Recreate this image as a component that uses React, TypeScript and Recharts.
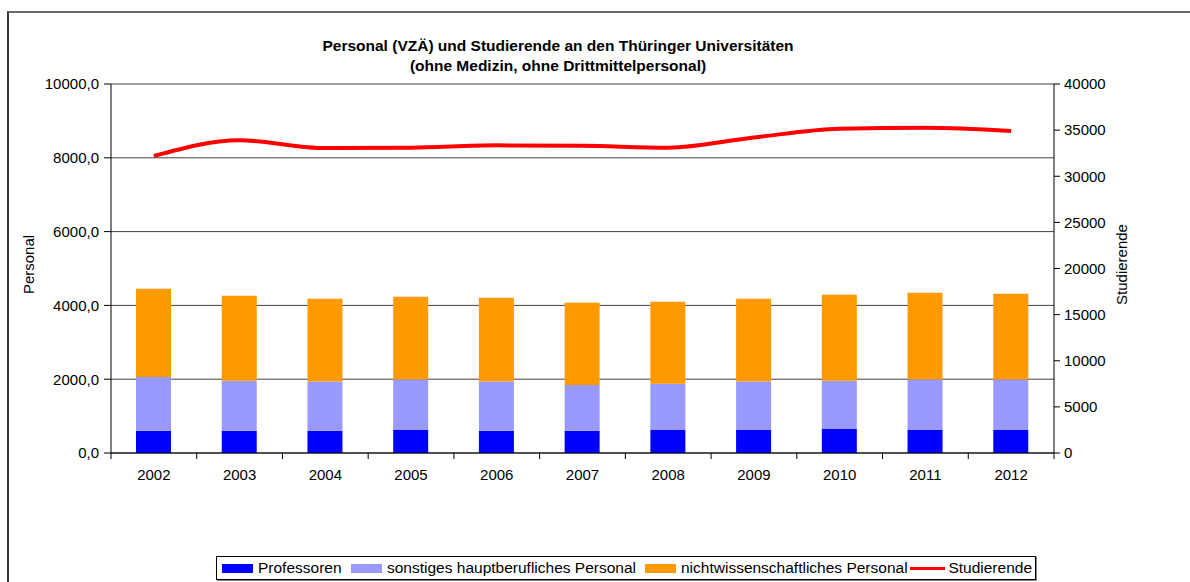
import { ComposedChart, Bar, Line, XAxis, YAxis, CartesianGrid } from 'recharts';

const years = ['2002', '2003', '2004', '2005', '2006', '2007', '2008', '2009', '2010', '2011', '2012'];
const professoren = [600, 600, 600, 625, 600, 600, 625, 625, 650, 625, 625];
const sonstiges = [1460, 1355, 1335, 1365, 1335, 1245, 1255, 1310, 1305, 1365, 1365];
const nichtwiss = [2390, 2305, 2245, 2245, 2270, 2225, 2220, 2245, 2335, 2350, 2325];
const studierende = [32200, 33900, 33050, 33100, 33350, 33300, 33100, 34200, 35150, 35250, 34900];

const leftTicks = [0, 2000, 4000, 6000, 8000, 10000];
const rightTicks = [0, 5000, 10000, 15000, 20000, 25000, 30000, 35000, 40000];

const data = years.map((year, i) => ({
  year,
  professoren: professoren[i],
  sonstiges: sonstiges[i],
  nichtwiss: nichtwiss[i],
  studierende: studierende[i],
}));

const FONT = '"Liberation Sans", Arial, sans-serif';
const tickStyle = { fill: '#000', fontSize: 15, fontFamily: FONT };

const legendItems = [
  { label: 'Professoren', color: '#0000FF', line: false, width: 129 },
  { label: 'sonstiges hauptberufliches Personal', color: '#9999FF', line: false, width: 294 },
  { label: 'nichtwissenschaftliches Personal', color: '#FF9900', line: false, width: 265 },
  { label: 'Studierende', color: '#FF0000', line: true, width: 122 },
];

const axisTitle = (text: string, dx: number) => (props: any) => {
  const vb = props.viewBox || {};
  const x = vb.x + dx;
  const y = vb.y + vb.height / 2 - 4;
  return (
    <text
      x={x}
      y={y}
      transform={`rotate(-90, ${x}, ${y})`}
      textAnchor="middle"
      dominantBaseline="central"
      fontSize={15}
      fontFamily={FONT}
      fill="#000"
    >
      {text}
    </text>
  );
};

// year label plus the small tick marks that sit between the categories
const YearTick = (props: any) => {
  const { x, y, payload, index, visibleTicksCount } = props;
  const half = payload && payload.offset ? payload.offset : 943 / 11 / 2;
  const axisY = y - 16;
  const isLast = index === (visibleTicksCount || years.length) - 1;
  return (
    <g>
      <line x1={x - half} x2={x - half} y1={axisY} y2={axisY + 6} stroke="#000" />
      {isLast && <line x1={x + half} x2={x + half} y1={axisY} y2={axisY + 6} stroke="#000" />}
      <text x={x} y={y} dy="0.71em" textAnchor="middle" fontSize={15} fontFamily={FONT} fill="#000">
        {payload.value}
      </text>
    </g>
  );
};

export default function App() {
  return (
    <div
      style={{
        position: 'fixed',
        left: 0,
        top: 0,
        width: 1190,
        height: 582,
        background: '#fff',
        overflow: 'hidden',
        fontFamily: FONT,
      }}
    >
      {/* chart frame, runs off the page to the right and bottom */}
      <div
        style={{
          position: 'absolute',
          left: 7,
          top: 11,
          width: 1300,
          height: 700,
          borderLeft: '2px solid #3a3a3a',
          borderTop: '2px solid #6a6a6a',
        }}
      />

      <div
        style={{
          position: 'absolute',
          left: 0,
          width: 1116,
          top: 36,
          textAlign: 'center',
          fontWeight: 'bold',
          fontSize: 15.5,
          lineHeight: '20px',
          color: '#000',
        }}
      >
        <div>Personal (VZÄ) und Studierende an den Thüringer Universitäten</div>
        <div>(ohne Medizin, ohne Drittmittelpersonal)</div>
      </div>

      <div style={{ position: 'absolute', left: 0, top: 0 }}>
        <ComposedChart
          width={1190}
          height={582}
          data={data}
          margin={{ top: 84, right: 56, bottom: 99, left: 40 }}
          barCategoryGap={0}
        >
          <CartesianGrid yAxisId="left" vertical={false} stroke="#000" strokeOpacity={0.75} />
          <XAxis
            dataKey="year"
            height={30}
            axisLine={{ stroke: '#000' }}
            tickLine={false}
            tickSize={6}
            tickMargin={10}
            tick={<YearTick />}
            interval={0}
          />
          <YAxis
            yAxisId="left"
            width={71}
            domain={[0, 10000]}
            ticks={leftTicks}
            tickFormatter={(v: number) => v.toFixed(1).replace('.', ',')}
            axisLine={{ stroke: '#000' }}
            tickLine={{ stroke: '#000' }}
            tickSize={7}
            tickMargin={5}
            tick={tickStyle}
            label={{ content: axisTitle('Personal', -12) }}
          />
          <YAxis
            yAxisId="right"
            orientation="right"
            width={80}
            domain={[0, 40000]}
            ticks={rightTicks}
            axisLine={{ stroke: '#000' }}
            tickLine={{ stroke: '#000' }}
            tickSize={6}
            tickMargin={4}
            tick={tickStyle}
            label={{ content: axisTitle('Studierende', 67) }}
          />
          <Bar yAxisId="left" dataKey="professoren" stackId="p" fill="#0000FF" barSize={35} isAnimationActive={false} />
          <Bar yAxisId="left" dataKey="sonstiges" stackId="p" fill="#9999FF" barSize={35} isAnimationActive={false} />
          <Bar yAxisId="left" dataKey="nichtwiss" stackId="p" fill="#FF9900" barSize={35} isAnimationActive={false} />
          <Line
            yAxisId="right"
            type="monotone"
            dataKey="studierende"
            stroke="#FF0000"
            strokeWidth={4}
            dot={false}
            activeDot={false}
            isAnimationActive={false}
          />
        </ComposedChart>
      </div>

      <div
        style={{
          position: 'absolute',
          left: 216,
          top: 556,
          width: 813,
          height: 22,
          border: '1px solid #000',
          boxShadow: '1px 1px 0 #888',
          display: 'flex',
          alignItems: 'center',
          paddingLeft: 5,
          boxSizing: 'content-box',
          fontSize: 15.5,
          color: '#000',
          whiteSpace: 'nowrap',
        }}
      >
        {legendItems.map((item) => (
          <div key={item.label} style={{ display: 'flex', alignItems: 'center', width: item.width, flex: 'none' }}>
            {item.line ? (
              <div style={{ width: 37, height: 3, background: item.color, marginRight: 3 }} />
            ) : (
              <div style={{ width: 31, height: 9, background: item.color, marginRight: 5 }} />
            )}
            <span>{item.label}</span>
          </div>
        ))}
      </div>
    </div>
  );
}
